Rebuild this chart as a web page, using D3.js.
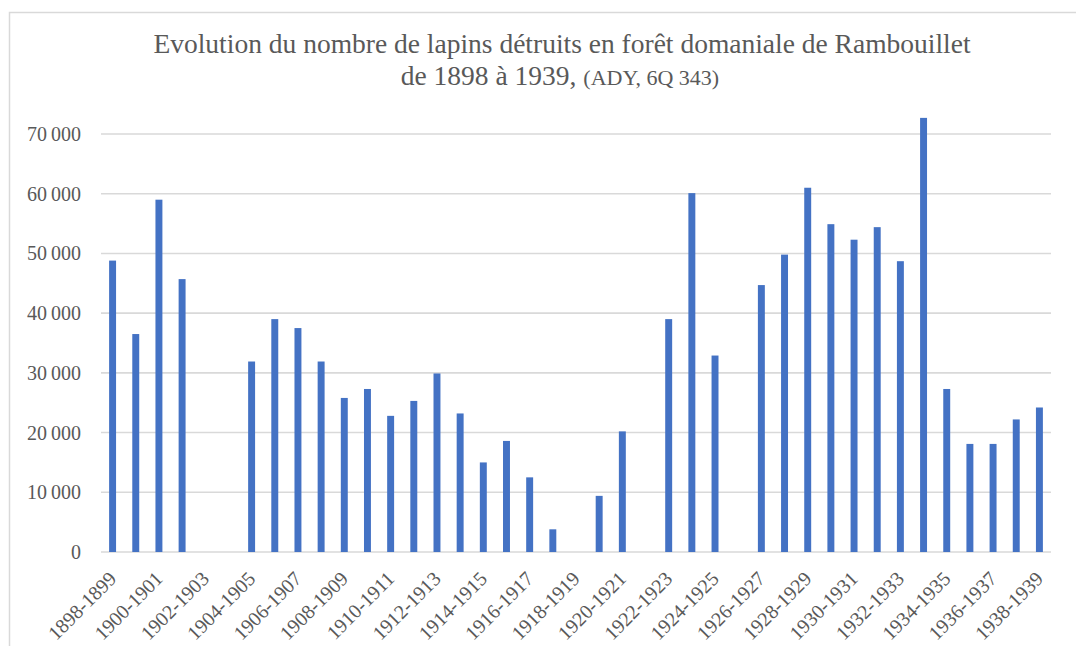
<!DOCTYPE html>
<html>
<head>
<meta charset="utf-8">
<script src="https://cdn.jsdelivr.net/npm/d3@7"></script>
<style>
  html, body { margin: 0; padding: 0; background: #fff; }
  svg { display: block; }
</style>
</head>
<body>
<svg id="chart" width="1076" height="646"></svg>
<script>
// Rabbits destroyed per hunting season, Rambouillet state forest
const seasons = [
  "1898-1899","1899-1900","1900-1901","1901-1902","1902-1903","1903-1904",
  "1904-1905","1905-1906","1906-1907","1907-1908","1908-1909","1909-1910",
  "1910-1911","1911-1912","1912-1913","1913-1914","1914-1915","1915-1916",
  "1916-1917","1917-1918","1918-1919","1919-1920","1920-1921","1921-1922",
  "1922-1923","1923-1924","1924-1925","1925-1926","1926-1927","1927-1928",
  "1928-1929","1929-1930","1930-1931","1931-1932","1932-1933","1933-1934",
  "1934-1935","1935-1936","1936-1937","1937-1938","1938-1939"
];
const rabbits = [
  48800, 36500, 59000, 45700, 0, 0,
  31900, 39000, 37500, 31900, 25800, 27300,
  22800, 25300, 29900, 23200, 15000, 18600,
  12500, 3800, 0, 9400, 20200, 0,
  39000, 60100, 32900, 0, 44700, 49800,
  61000, 54900, 52300, 54400, 48700, 72700,
  27300, 18100, 18100, 22200, 24200
];
const yTicks = [0, 10000, 20000, 30000, 40000, 50000, 60000, 70000];
const titleLine1 = "Evolution du nombre de lapins détruits en forêt domaniale de Rambouillet";
const titleLine2 = "de 1898 à 1939, ";
const titleSource = "(ADY, 6Q 343)";

const serif = "'Liberation Serif', 'Times New Roman', 'DejaVu Serif', serif";
const ink = "#595959";

const svg = d3.select("#chart")
  .attr("font-family", serif);

// chart frame
svg.append("rect")
  .attr("x", 9.5).attr("y", 12.5)
  .attr("width", 1200).attr("height", 800)
  .attr("fill", "none").attr("stroke", "#d9d9d9").attr("stroke-width", 1.5);

const plot = { left: 101, right: 1051, top: 134, bottom: 552 };

const x = d3.scaleBand()
  .domain(seasons)
  .range([plot.left, plot.right])
  .paddingInner(0.7)
  .paddingOuter(0.35);

const y = d3.scaleLinear()
  .domain([0, 70000])
  .range([plot.bottom, plot.top]);

const fmt = v => d3.format(",")(v).replace(/,/g, "\u2009");

// horizontal gridlines
svg.append("g")
  .selectAll("line")
  .data(yTicks)
  .join("line")
  .attr("x1", plot.left).attr("x2", plot.right)
  .attr("y1", d => y(d)).attr("y2", d => y(d))
  .attr("stroke", "#d9d9d9").attr("stroke-width", 1.6);

// y tick labels
svg.append("g")
  .selectAll("text")
  .data(yTicks)
  .join("text")
  .attr("x", 81)
  .attr("y", d => y(d))
  .attr("dy", "0.35em")
  .attr("text-anchor", "end")
  .attr("font-family", serif)
  .attr("font-size", 20)
  .attr("fill", ink)
  .text(fmt);

// bars
svg.append("g")
  .selectAll("rect")
  .data(seasons.map((s, i) => ({ s, v: rabbits[i] })))
  .join("rect")
  .attr("x", d => x(d.s))
  .attr("width", x.bandwidth())
  .attr("y", d => y(d.v))
  .attr("height", d => y(0) - y(d.v))
  .attr("fill", "#4472c4");

// x labels, every other season
svg.append("g")
  .selectAll("text")
  .data(seasons.filter((s, i) => i % 2 === 0))
  .join("text")
  .attr("text-anchor", "end")
  .attr("transform", d => `translate(${x(d) + x.bandwidth() / 2 + 5},${plot.bottom + 28}) rotate(-45)`)
  .attr("font-family", serif)
  .attr("font-size", 20)
  .attr("fill", ink)
  .text(d => d);

// title
const title = svg.append("text")
  .attr("text-anchor", "middle")
  .attr("font-family", serif)
  .attr("font-size", 27.5)
  .attr("fill", ink);
title.append("tspan").attr("x", 562).attr("y", 53).text(titleLine1);
const l2 = title.append("tspan").attr("x", 560).attr("y", 85);
l2.append("tspan").text(titleLine2);
l2.append("tspan").attr("font-size", 22).text(titleSource);
</script>
</body>
</html>
